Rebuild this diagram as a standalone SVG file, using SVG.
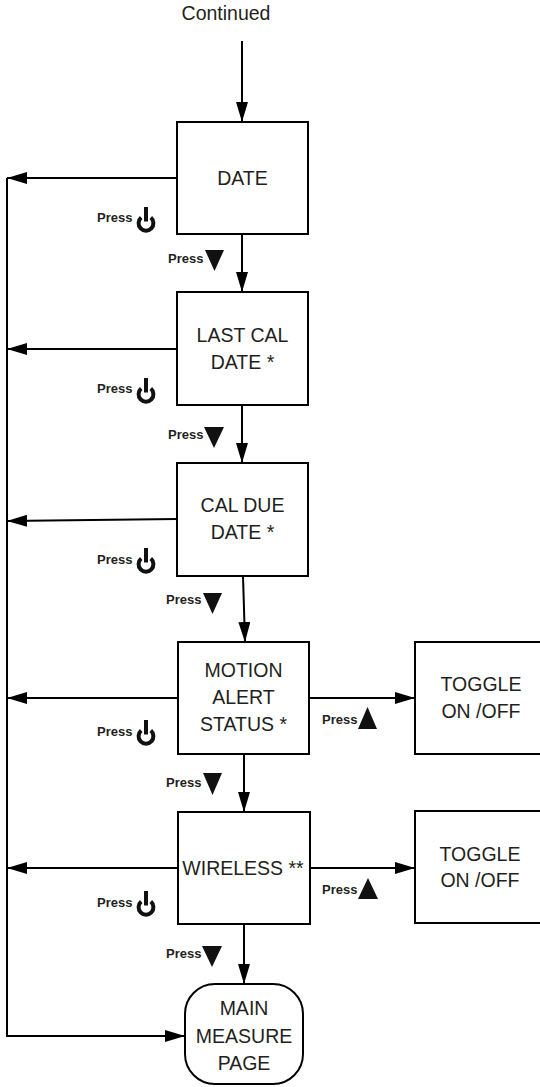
<svg xmlns="http://www.w3.org/2000/svg" width="540" height="1087" viewBox="0 0 540 1087">
<style>
.box{fill:#fff;stroke:#000;stroke-width:2}
.t{font-family:"Liberation Sans",Arial,sans-serif;font-size:19.5px;fill:#231f20;text-anchor:middle}
.p{font-family:"Liberation Sans",Arial,sans-serif;font-size:13px;font-weight:bold;fill:#231f20}
.c{fill:none;stroke:#000;stroke-width:2}
.tri{fill:#111}
</style>
<defs>
<marker id="ah" viewBox="0 0 20 12" refX="20" refY="6" markerWidth="20" markerHeight="12" markerUnits="userSpaceOnUse" orient="auto">
<path d="M0,0 L20,6 L0,12 Z" fill="#000"/>
</marker>
<g id="pwr">
<path d="M4.2,10.6 A7.4,7.4 0 1 0 13.8,10.6" fill="none" stroke="#111" stroke-width="4"/>
<line x1="9" y1="0" x2="9" y2="14.5" stroke="#111" stroke-width="4"/>
</g>
</defs>

<text class="t" x="226" y="20">Continued</text>

<g id="connectors">
<line class="c" x1="242" y1="41" x2="242" y2="122" marker-end="url(#ah)"/>
<line class="c" x1="242" y1="234" x2="242" y2="292" marker-end="url(#ah)"/>
<line class="c" x1="242" y1="405" x2="242" y2="463" marker-end="url(#ah)"/>
<line class="c" x1="243" y1="576" x2="245" y2="642" marker-end="url(#ah)"/>
<line class="c" x1="244" y1="754" x2="244" y2="812" marker-end="url(#ah)"/>
<line class="c" x1="244" y1="924" x2="244" y2="984" marker-end="url(#ah)"/>
<line class="c" x1="177" y1="178" x2="7" y2="178" marker-end="url(#ah)"/>
<line class="c" x1="177" y1="349" x2="7" y2="349" marker-end="url(#ah)"/>
<line class="c" x1="177" y1="519" x2="7" y2="521" marker-end="url(#ah)"/>
<line class="c" x1="178" y1="698" x2="7" y2="698" marker-end="url(#ah)"/>
<line class="c" x1="178" y1="868" x2="7" y2="868" marker-end="url(#ah)"/>
<polyline class="c" points="7,178 7,1036 185,1036" marker-end="url(#ah)"/>
<line class="c" x1="309" y1="698" x2="415" y2="698" marker-end="url(#ah)"/>
<line class="c" x1="310" y1="868" x2="415" y2="868" marker-end="url(#ah)"/>
</g>

<g id="labels">
<text class="p" x="97" y="222">Press</text><use href="#pwr" x="137" y="207"/>
<text class="p" x="168" y="263">Press</text><polygon class="tri" points="205,250 224,250 214.5,271"/>
<text class="p" x="97" y="393">Press</text><use href="#pwr" x="137" y="378"/>
<text class="p" x="168" y="439">Press</text><polygon class="tri" points="204,427 224,427 214,448"/>
<text class="p" x="97" y="564">Press</text><use href="#pwr" x="137" y="548"/>
<text class="p" x="166" y="604">Press</text><polygon class="tri" points="203,593 222,593 212.5,614"/>
<text class="p" x="97" y="736">Press</text><use href="#pwr" x="137" y="720"/>
<text class="p" x="166" y="787">Press</text><polygon class="tri" points="203,773 222,773 212.5,795"/>
<text class="p" x="322" y="724">Press</text><polygon class="tri" points="358,729 377,729 367.5,707"/>
<text class="p" x="97" y="907">Press</text><use href="#pwr" x="137" y="891"/>
<text class="p" x="166" y="958">Press</text><polygon class="tri" points="202,946 222,946 212,967"/>
<text class="p" x="322" y="894">Press</text><polygon class="tri" points="358,899 378,899 368,878"/>
</g>

<g id="date"><rect class="box" x="177" y="122" width="131" height="112"/><text class="t" x="242.5" y="185">DATE</text></g>
<g id="lastcal"><rect class="box" x="177" y="292" width="131" height="113"/><text class="t" x="242.5" y="342">LAST CAL</text><text class="t" x="242.5" y="369">DATE *</text></g>
<g id="caldue"><rect class="box" x="177" y="463" width="131" height="113"/><text class="t" x="242.5" y="512">CAL DUE</text><text class="t" x="242.5" y="539">DATE *</text></g>
<g id="motion"><rect class="box" x="178" y="642" width="131" height="112"/><text class="t" x="243.5" y="677">MOTION</text><text class="t" x="243.5" y="704">ALERT</text><text class="t" x="243.5" y="731">STATUS *</text></g>
<g id="toggle1"><rect class="box" x="415" y="642" width="130" height="112"/><text class="t" x="481" y="691">TOGGLE</text><text class="t" x="481" y="718">ON /OFF</text></g>
<g id="wireless"><rect class="box" x="178" y="812" width="132" height="112"/><text class="t" x="243" y="875">WIRELESS **</text></g>
<g id="toggle2"><rect class="box" x="415" y="811" width="130" height="112"/><text class="t" x="480" y="861">TOGGLE</text><text class="t" x="480" y="887">ON /OFF</text></g>
<g id="main"><rect class="box" x="185" y="984" width="118" height="100" rx="30" ry="30"/><text class="t" x="244" y="1015">MAIN</text><text class="t" x="244" y="1043">MEASURE</text><text class="t" x="244" y="1070">PAGE</text></g>
</svg>
